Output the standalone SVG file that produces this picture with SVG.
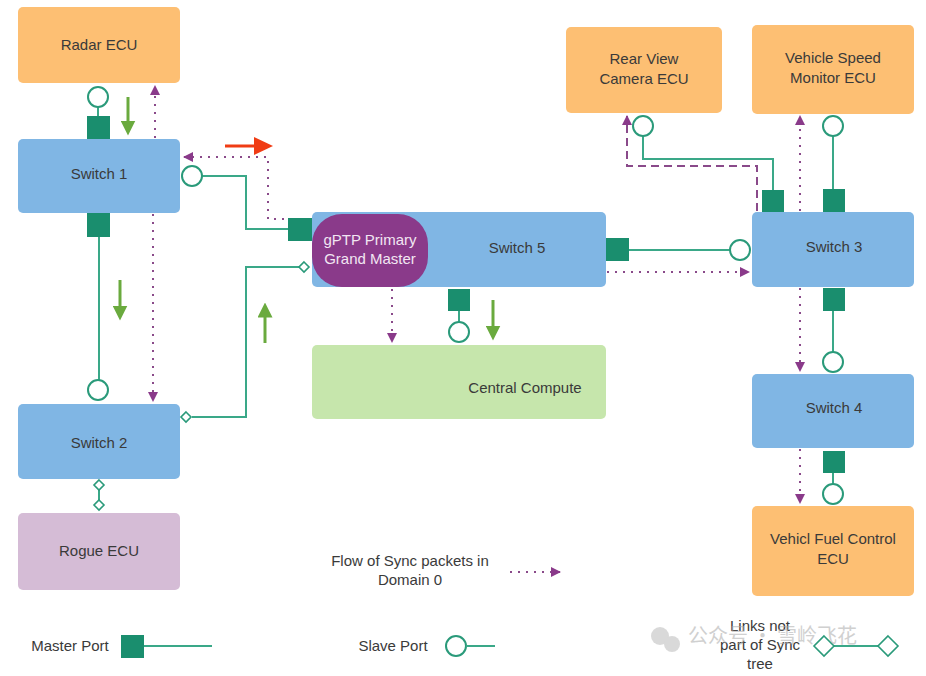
<svg xmlns="http://www.w3.org/2000/svg" width="926" height="676" viewBox="0 0 926 676">
<defs>
<style>
.t{font-family:"Liberation Sans",Arial,sans-serif;font-size:15px;fill:#3a3a3a;text-anchor:middle}
.sw{fill:#80B6E4}
.ecu{fill:#FDBF73}
.port{fill:#1A8E6E}
.slave{fill:#fff;stroke:#2A9A7A;stroke-width:2}
.ln{fill:none;stroke:#3AA888;stroke-width:2}
.dia{fill:#fff;stroke:#2A9A7A;stroke-width:1.6}
.sync{fill:none;stroke:#8A4A8A;stroke-width:2;stroke-dasharray:2 6}
.dash{fill:none;stroke:#8A4A8A;stroke-width:2;stroke-dasharray:8 5}
.ga{stroke:#6AAA3E;stroke-width:3;fill:none}
</style>
<marker id="pa" viewBox="0 0 10 10" refX="9" refY="5" markerWidth="5" markerHeight="5" orient="auto" markerUnits="strokeWidth"><path d="M0,0L10,5L0,10z" fill="#8A3A8A"/></marker>
<marker id="gah" viewBox="0 0 10 10" refX="5" refY="5" markerWidth="5" markerHeight="5" orient="auto" markerUnits="strokeWidth"><path d="M0,0L10,5L0,10z" fill="#6AAA3E"/></marker>
</defs>
<rect width="926" height="676" fill="#fff"/>

<g id="connectors">
<path class="ln" d="M98,107V127"/>
<path class="ln" d="M99,237V380"/>
<path class="ln" d="M202,176H246V229H290"/>
<path class="ln" d="M192,417H246V267H299"/>
<path class="ln" d="M99,490V500"/>
<path class="ln" d="M459,311V322"/>
<path class="ln" d="M629,250H730"/>
<path class="ln" d="M773,192V159H643V136"/>
<path class="ln" d="M833,192V136"/>
<path class="ln" d="M833,311V352"/>
<path class="ln" d="M833,473V484"/>

<path class="sync" d="M155,138V86" marker-end="url(#pa)"/>
<path class="sync" d="M308,219H268V157H184" marker-end="url(#pa)"/>
<path class="sync" d="M153,214V401" marker-end="url(#pa)"/>
<path class="sync" d="M392,289V342" marker-end="url(#pa)"/>
<path class="sync" d="M607,272H749" marker-end="url(#pa)"/>
<path class="dash" d="M757,211V166H627V116" marker-end="url(#pa)"/>
<path class="sync" d="M800,211V116" marker-end="url(#pa)"/>
<path class="sync" d="M800,288V371" marker-end="url(#pa)"/>
<path class="sync" d="M800,449V503" marker-end="url(#pa)"/>

<path class="ga" d="M128,97V128" marker-end="url(#gah)"/>
<path class="ga" d="M120,280V313" marker-end="url(#gah)"/>
<path class="ga" d="M265,343V310" marker-end="url(#gah)"/>
<path class="ga" d="M493,300V333" marker-end="url(#gah)"/>
<path d="M225,146H258" stroke="#F03C14" stroke-width="3"/>
<path d="M254,137L273,146L254,155z" fill="#F03C14"/>
</g>

<g id="radar"><rect class="ecu" x="18" y="7" width="162" height="76" rx="5"/><text class="t" x="99" y="50">Radar ECU</text></g>
<g id="switch1"><rect class="sw" x="18" y="139" width="162" height="74" rx="5"/><text class="t" x="99" y="179" fill="#2c3e5a">Switch  1</text></g>
<g id="switch2"><rect class="sw" x="18" y="404" width="162" height="75" rx="5"/><text class="t" x="99" y="448">Switch  2</text></g>
<g id="rogue"><rect x="18" y="513" width="162" height="77" rx="5" fill="#D5BCD6"/><text class="t" x="99" y="556">Rogue ECU</text></g>
<g id="switch5"><rect class="sw" x="312" y="212" width="294" height="75" rx="5"/><text class="t" x="517" y="253">Switch 5</text></g>
<g id="gptp"><rect x="312" y="214" width="116" height="73" rx="30" fill="#8A3A8A"/><text class="t" x="370" y="245" style="fill:#f2e6f2">gPTP Primary</text><text class="t" x="370" y="264" style="fill:#f2e6f2">Grand Master</text></g>
<g id="central"><rect x="312" y="345" width="294" height="74" rx="5" fill="#C6E6AC"/><text class="t" x="525" y="393">Central Compute</text></g>
<g id="rearview"><rect class="ecu" x="566" y="27" width="156" height="86" rx="5"/><text class="t" x="644" y="64">Rear View</text><text class="t" x="644" y="84">Camera ECU</text></g>
<g id="vspeed"><rect class="ecu" x="752" y="25" width="162" height="89" rx="5"/><text class="t" x="833" y="63">Vehicle Speed</text><text class="t" x="833" y="83">Monitor ECU</text></g>
<g id="switch3"><rect class="sw" x="752" y="212" width="162" height="75" rx="5"/><text class="t" x="834" y="252">Switch 3</text></g>
<g id="switch4"><rect class="sw" x="752" y="374" width="162" height="74" rx="5"/><text class="t" x="834" y="413">Switch 4</text></g>
<g id="fuel"><rect class="ecu" x="752" y="506" width="162" height="90" rx="5"/><text class="t" x="833" y="544">Vehicl Fuel Control</text><text class="t" x="833" y="564">ECU</text></g>

<g id="ports">
<circle class="slave" cx="98" cy="97" r="10"/>
<rect class="port" x="87" y="116" width="23" height="23"/>
<rect class="port" x="87" y="213" width="23" height="24"/>
<circle class="slave" cx="98" cy="390" r="10"/>
<circle class="slave" cx="192" cy="176" r="10"/>
<rect class="port" x="288" y="218" width="24" height="23"/>
<path class="dia" d="M186,412L191,417L186,422L181,417z"/>
<path class="dia" d="M304,262L309,267L304,272L299,267z"/>
<path class="dia" d="M99,480L104,485L99,490L94,485z"/>
<path class="dia" d="M99,500L104,505L99,510L94,505z"/>
<rect class="port" x="448" y="289" width="22" height="22"/>
<circle class="slave" cx="459" cy="332" r="10"/>
<rect class="port" x="606" y="238" width="23" height="23"/>
<circle class="slave" cx="740" cy="250" r="10"/>
<rect class="port" x="762" y="190" width="22" height="22"/>
<circle class="slave" cx="643" cy="126" r="10"/>
<rect class="port" x="823" y="189" width="22" height="23"/>
<circle class="slave" cx="833" cy="126" r="10"/>
<rect class="port" x="823" y="288" width="22" height="23"/>
<circle class="slave" cx="833" cy="362" r="10"/>
<rect class="port" x="823" y="451" width="22" height="22"/>
<circle class="slave" cx="833" cy="494" r="10"/>
</g>

<g id="legend">
<text class="t" x="410" y="566">Flow of Sync packets in</text>
<text class="t" x="410" y="585">Domain 0</text>
<path class="sync" d="M510,572H560" marker-end="url(#pa)"/>
<text class="t" x="70" y="651">Master Port</text>
<rect class="port" x="121" y="635" width="23" height="23"/>
<path class="ln" d="M144,646H212"/>
<text class="t" x="393" y="651">Slave Port</text>
<circle class="slave" cx="456" cy="646" r="10"/>
<path class="ln" d="M466,646H495"/>
<text class="t" x="760" y="631">Links not</text>
<text class="t" x="760" y="650">part of Sync</text>
<text class="t" x="760" y="669">tree</text>
<path class="ln" d="M834,646H878"/>
<path class="dia" d="M824,636L834,646L824,656L814,646z"/>
<path class="dia" d="M888,636L898,646L888,656L878,646z"/>
</g>

<g id="watermark" opacity="0.55">
<circle cx="660" cy="636" r="9" fill="#bbb"/>
<circle cx="672" cy="644" r="8" fill="#bbb"/>
<text x="688" y="643" style="font-family:'Noto Sans CJK SC',sans-serif;font-size:20px;fill:#aaa">公众号 · 雪岭飞花</text>
</g>
</svg>
